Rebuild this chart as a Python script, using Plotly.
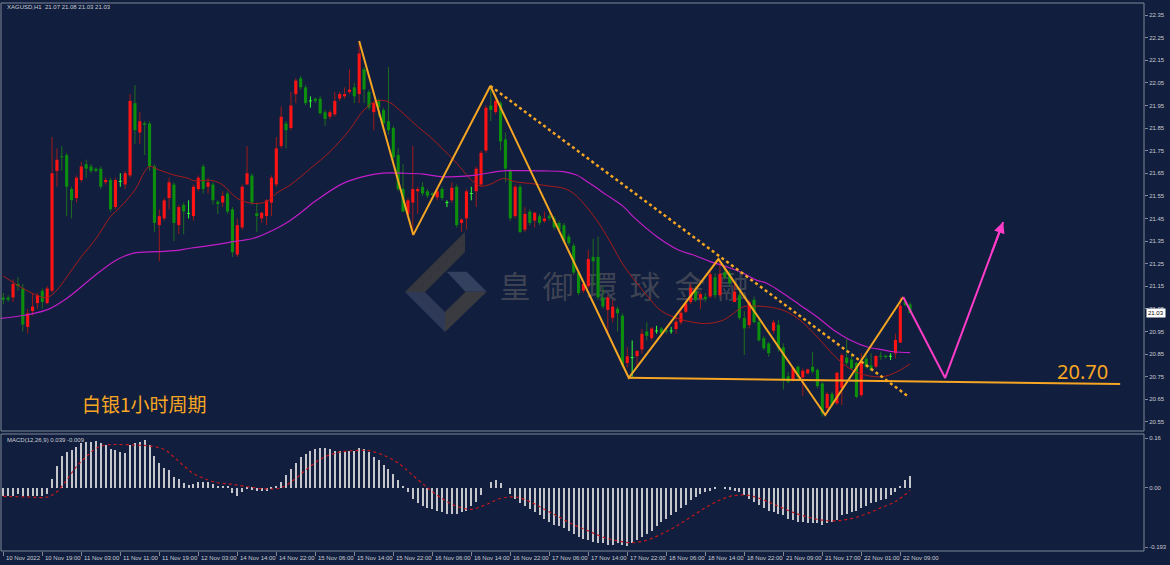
import plotly.graph_objects as go

# ---------------- data ----------------
opens = [21.10, 21.10, 21.10, 21.16, 21.14, 20.97, 21.04, 21.075, 21.13, 21.075,
         21.13, 21.66, 21.725, 21.73, 21.58, 21.54, 21.62, 21.69, 21.68, 21.67,
         21.67, 21.61, 21.62, 21.50, 21.614, 21.60, 21.64, 21.96, 21.83, 21.871,
         21.87, 21.68, 21.42, 21.45, 21.54, 21.60, 21.42, 21.51, 21.472, 21.46,
         21.58, 21.68, 21.59, 21.60, 21.524, 21.52, 21.56, 21.49, 21.29, 21.41,
         21.60, 21.64, 21.473, 21.45, 21.46, 21.52, 21.60, 21.77, 21.87, 21.85,
         22.00, 22.07, 22.03, 21.97, 21.98, 21.98, 21.92, 21.90, 21.91, 21.98,
         21.99, 22.01, 22.03, 22.00, 22.11, 22.01, 21.92, 21.97, 21.93, 21.88,
         21.85, 21.73, 21.58, 21.47, 21.52, 21.57, 21.59, 21.57, 21.561, 21.543,
         21.58, 21.52, 21.53, 21.59, 21.43, 21.45, 21.56, 21.57, 21.60, 21.75,
         21.95, 21.92, 21.96, 21.80, 21.66, 21.46, 21.59, 21.40, 21.48, 21.44,
         21.46, 21.438, 21.46, 21.45, 21.43, 21.42, 21.37, 21.33, 21.21, 21.13,
         21.15, 21.28, 21.28, 21.10, 21.045, 21.01, 21.05, 21.02, 20.81, 20.834,
         20.84, 20.87, 20.95, 20.92, 20.952, 20.963, 20.953, 20.952, 20.96, 20.99,
         21.037, 21.08, 21.13, 21.096, 21.104, 21.104, 21.19, 21.11, 21.214, 21.207,
         21.08, 21.11, 21.01, 20.978, 21.09, 20.993, 20.92, 20.897, 20.953, 20.98,
         20.88, 20.752, 20.738, 20.794, 20.746, 20.764, 20.794, 20.78, 20.72, 20.61,
         20.673, 20.632, 20.70, 20.835, 20.826, 20.81, 20.668, 20.83, 20.80, 20.794,
         20.842, 20.843, 20.84, 20.853, 20.90, 21.08, 21.07]
highs = [21.12, 21.11, 21.18, 21.19, 21.16, 21.05, 21.12, 21.12, 21.14, 21.15,
         21.81, 21.76, 21.77, 21.74, 21.59, 21.64, 21.70, 21.71, 21.69, 21.675,
         21.68, 21.63, 21.63, 21.63, 21.65, 21.66, 22.00, 22.04, 21.92, 21.88,
         21.88, 21.69, 21.49, 21.54, 21.63, 21.61, 21.51, 21.52, 21.53, 21.60,
         21.64, 21.69, 21.63, 21.61, 21.53, 21.57, 21.57, 21.50, 21.45, 21.60,
         21.77, 21.65, 21.52, 21.48, 21.535, 21.64, 21.81, 21.945, 21.88, 22.01,
         22.07, 22.08, 22.04, 21.99, 21.985, 21.99, 21.93, 21.93, 22.01, 22.01,
         22.03, 22.11, 22.05, 22.235, 22.12, 22.02, 21.97, 21.98, 21.94, 22.12,
         21.86, 21.76, 21.69, 21.54, 21.77, 21.59, 21.61, 21.58, 21.565, 21.58,
         21.59, 21.53, 21.61, 21.60, 21.45, 21.58, 21.59, 21.68, 21.75, 21.95,
         22.036, 22.00, 21.97, 21.83, 21.67, 21.60, 21.60, 21.50, 21.49, 21.48,
         21.47, 21.48, 21.47, 21.46, 21.44, 21.43, 21.38, 21.34, 21.22, 21.17,
         21.31, 21.36, 21.37, 21.15, 21.11, 21.09, 21.06, 21.03, 20.88, 20.91,
         20.87, 20.96, 20.99, 20.97, 20.975, 20.97, 20.96, 20.97, 21.01, 21.045,
         21.085, 21.16, 21.15, 21.125, 21.12, 21.22, 21.207, 21.266, 21.23, 21.22,
         21.16, 21.126, 21.04, 21.09, 21.104, 21.008, 20.93, 20.904, 21.00, 21.00,
         20.897, 20.77, 20.794, 20.80, 20.786, 20.786, 20.86, 20.786, 20.727, 20.683,
         20.683, 20.772, 20.853, 20.92, 20.853, 20.816, 20.853, 20.845, 20.853, 20.845,
         20.86, 20.845, 20.853, 20.94, 21.10, 21.09, 21.08]
lows = [21.07, 21.08, 21.08, 21.13, 20.95, 20.94, 21.02, 21.05, 21.05, 21.07,
        21.12, 21.59, 21.66, 21.46, 21.45, 21.52, 21.61, 21.63, 21.65, 21.655,
        21.58, 21.60, 21.48, 21.49, 21.59, 21.58, 21.63, 21.78, 21.78, 21.73,
        21.66, 21.39, 21.26, 21.44, 21.49, 21.35, 21.38, 21.38, 21.45, 21.44,
        21.57, 21.56, 21.56, 21.51, 21.47, 21.50, 21.47, 21.28, 21.28, 21.40,
        21.60, 21.51, 21.39, 21.43, 21.42, 21.46, 21.59, 21.76, 21.76, 21.84,
        21.96, 22.02, 21.95, 21.94, 21.96, 21.91, 21.86, 21.89, 21.90, 21.97,
        21.98, 22.00, 21.96, 21.96, 21.96, 21.93, 21.84, 21.90, 21.85, 21.82,
        21.70, 21.57, 21.48, 21.46, 21.38, 21.47, 21.55, 21.54, 21.55, 21.53,
        21.53, 21.50, 21.52, 21.41, 21.39, 21.40, 21.53, 21.50, 21.59, 21.74,
        21.88, 21.91, 21.75, 21.61, 21.44, 21.45, 21.385, 21.39, 21.42, 21.41,
        21.42, 21.43, 21.44, 21.40, 21.39, 21.34, 21.33, 21.20, 21.11, 21.12,
        21.14, 21.15, 21.09, 21.05, 20.94, 20.99, 20.95, 20.79, 20.79, 20.75,
        20.79, 20.85, 20.91, 20.91, 20.94, 20.935, 20.94, 20.94, 20.94, 20.98,
        21.03, 21.07, 21.08, 21.05, 21.08, 21.096, 21.096, 21.10, 21.18, 21.15,
        21.08, 21.00, 20.846, 20.963, 20.986, 20.904, 20.867, 20.838, 20.94, 20.86,
        20.693, 20.72, 20.727, 20.735, 20.664, 20.76, 20.764, 20.698, 20.573, 20.587,
        20.617, 20.624, 20.624, 20.80, 20.78, 20.654, 20.66, 20.786, 20.772, 20.786,
        20.823, 20.83, 20.823, 20.83, 20.90, 21.06, 21.03]
closes = [21.09, 21.09, 21.16, 21.15, 20.98, 21.03, 21.06, 21.11, 21.08, 21.14,
          21.65, 21.71, 21.72, 21.59, 21.53, 21.63, 21.68, 21.67, 21.66, 21.66,
          21.59, 21.62, 21.49, 21.62, 21.614, 21.65, 21.97, 21.84, 21.88, 21.864,
          21.68, 21.43, 21.46, 21.53, 21.61, 21.43, 21.50, 21.48, 21.472, 21.59,
          21.63, 21.58, 21.61, 21.53, 21.514, 21.55, 21.48, 21.30, 21.42, 21.59,
          21.65, 21.52, 21.46, 21.475, 21.53, 21.63, 21.76, 21.90, 21.84, 21.95,
          22.06, 22.03, 21.96, 21.97, 21.97, 21.915, 21.89, 21.92, 21.97, 22.00,
          22.00, 22.02, 21.99, 22.18, 22.02, 21.94, 21.96, 21.94, 21.87, 21.84,
          21.72, 21.58, 21.48, 21.53, 21.58, 21.58, 21.56, 21.55, 21.554, 21.57,
          21.54, 21.52, 21.586, 21.42, 21.445, 21.57, 21.56, 21.67, 21.74, 21.94,
          21.93, 21.97, 21.79, 21.67, 21.45, 21.59, 21.39, 21.47, 21.43, 21.475,
          21.43, 21.45, 21.45, 21.41, 21.40, 21.35, 21.34, 21.21, 21.12, 21.16,
          21.27, 21.26, 21.10, 21.06, 21.10, 21.06, 21.03, 20.80, 20.84, 20.834,
          20.863, 20.94, 20.93, 20.963, 20.952, 20.94, 20.95, 20.952, 20.993, 21.033,
          21.074, 21.144, 21.09, 21.115, 21.092, 21.203, 21.11, 21.204, 21.19, 21.163,
          21.126, 21.01, 20.963, 21.08, 20.99, 20.91, 20.875, 20.853, 20.99, 20.875,
          20.735, 20.727, 20.787, 20.75, 20.776, 20.782, 20.772, 20.708, 20.587, 20.673,
          20.624, 20.767, 20.845, 20.81, 20.786, 20.66, 20.816, 20.794, 20.78, 20.841,
          20.838, 20.836, 20.84, 20.912, 21.064, 21.066, 21.03]

tick_bars = list(range(0, 185, 8))
tick_labels = ["10 Nov 2022", "10 Nov 19:00", "11 Nov 03:00", "11 Nov 11:00", "11 Nov 19:00",
               "12 Nov 03:00", "14 Nov 14:00", "14 Nov 22:00", "15 Nov 06:00", "15 Nov 14:00",
               "15 Nov 22:00", "16 Nov 06:00", "16 Nov 14:00", "16 Nov 22:00", "17 Nov 06:00",
               "17 Nov 14:00", "17 Nov 22:00", "18 Nov 06:00", "18 Nov 14:00", "18 Nov 22:00",
               "21 Nov 09:00", "21 Nov 17:00", "22 Nov 01:00", "22 Nov 09:00"]

price_ticks = [22.35, 22.25, 22.15, 22.05, 21.95, 21.85, 21.75, 21.65, 21.55, 21.45,
               21.35, 21.25, 21.15, 21.05, 20.95, 20.85, 20.75, 20.65, 20.55]
macd_ticks = [0.16, 0.0, -0.193]
macd_tick_text = ["0.16", "0.00", "-0.193"]

ma_red_x = [0, 6, 9, 11, 13, 16, 19, 22, 24, 27, 29, 30, 32, 35, 38, 39, 43, 45, 48, 51, 54, 56, 59,
            63, 67, 71, 74, 76.6, 79, 82, 85, 87.5, 90, 93, 96, 98, 100, 102.6, 105, 108, 112, 115,
            117, 119, 121.7, 124.4, 127, 129, 132, 135, 139.5, 143, 145, 147.7, 149.8, 151.8, 154.5,
            156.6, 158.6, 160.7, 163.4, 166.9, 170.3, 173, 175.7, 178.5, 180.5, 182.6, 184, 186]
ma_red_y = [21.195, 21.118, 21.10, 21.133, 21.19, 21.28, 21.36, 21.458, 21.50, 21.576, 21.657, 21.68,
            21.664, 21.642, 21.627, 21.617, 21.617, 21.598, 21.539, 21.517, 21.524, 21.561, 21.60,
            21.671, 21.745, 21.841, 21.93, 21.97, 21.966, 21.915, 21.856, 21.812, 21.76, 21.694, 21.62,
            21.593, 21.602, 21.627, 21.612, 21.605, 21.593, 21.583, 21.56, 21.517, 21.443, 21.35,
            21.25, 21.19, 21.11, 21.04, 21.0, 20.986, 20.986, 21.0, 21.03, 21.059, 21.062, 21.059,
            21.052, 21.037, 21.0, 20.927, 20.846, 20.794, 20.764, 20.75, 20.75, 20.764, 20.779, 20.806]

ma_mag_x = [-0.5, 3.4, 8.9, 13, 18.5, 23.2, 26.7, 31.5, 35, 38.3, 43, 47.2, 51.3, 55.4, 58.8, 61, 64.3,
            69.7, 74.5, 77.9, 82, 86.2, 89.6, 93, 96.4, 99.8, 103.3, 106.7, 110.8, 114.9, 117.6, 120.3,
            123.8, 127.2, 129.6, 134.1, 138.5, 142, 145, 148.4, 151.8, 154.5, 156.6, 160, 163.4, 166.9,
            170.3, 173.7, 177.1, 180.5, 182.6, 186]
ma_mag_y = [21.008, 21.018, 21.045, 21.096, 21.192, 21.266, 21.296, 21.303, 21.307, 21.318, 21.332,
            21.347, 21.362, 21.399, 21.44, 21.475, 21.531, 21.605, 21.638, 21.65, 21.65, 21.646, 21.635,
            21.635, 21.64, 21.652, 21.661, 21.661, 21.66, 21.657, 21.642, 21.605, 21.553, 21.502, 21.45,
            21.369, 21.31, 21.285, 21.259, 21.236, 21.207, 21.177, 21.163, 21.118, 21.067, 21.015,
            20.956, 20.912, 20.882, 20.868, 20.86, 20.856]

macd_hist = [-0.026, -0.026, -0.026, -0.022, -0.026, -0.026, -0.026, -0.026, -0.026, -0.022,
             0.027, 0.070, 0.103, 0.117, 0.122, 0.133, 0.144, 0.149, 0.149, 0.151,
             0.144, 0.138, 0.124, 0.122, 0.117, 0.113, 0.138, 0.144, 0.149, 0.155,
             0.138, 0.103, 0.079, 0.063, 0.057, 0.036, 0.027, 0.016, 0.009, 0.012,
             0.017, 0.017, 0.019, 0.011, 0.006, 0.005, 0.003, -0.018, -0.026, -0.013,
             -0.004, -0.006, -0.010, -0.012, -0.010, -0.005, 0.005, 0.020, 0.040, 0.060,
             0.080, 0.100, 0.110, 0.120, 0.125, 0.130, 0.128, 0.125, 0.120, 0.120,
             0.118, 0.120, 0.120, 0.130, 0.125, 0.115, 0.100, 0.090, 0.075, 0.060,
             0.045, 0.025, 0.005, -0.015, -0.035, -0.050, -0.060, -0.065, -0.070, -0.075,
             -0.080, -0.085, -0.085, -0.085, -0.080, -0.075, -0.060, -0.045, -0.025, 0.000,
             0.020, 0.025, 0.015, 0.000, -0.020, -0.035, -0.050, -0.060, -0.070, -0.080,
             -0.090, -0.100, -0.110, -0.120, -0.125, -0.130, -0.140, -0.150, -0.160, -0.165,
             -0.170, -0.175, -0.180, -0.180, -0.185, -0.185, -0.180, -0.185, -0.190, -0.180,
             -0.170, -0.160, -0.150, -0.140, -0.125, -0.110, -0.100, -0.090, -0.080, -0.065,
             -0.055, -0.040, -0.030, -0.020, -0.015, -0.010, -0.005, 0.000, -0.003, -0.006,
             -0.010, -0.015, -0.025, -0.035, -0.045, -0.055, -0.065, -0.075, -0.080, -0.085,
             -0.090, -0.100, -0.105, -0.110, -0.110, -0.115, -0.115, -0.115, -0.120, -0.115,
             -0.110, -0.105, -0.090, -0.085, -0.080, -0.075, -0.065, -0.060, -0.050, -0.045,
             -0.040, -0.035, -0.025, -0.015, 0.005, 0.025, 0.039]

signal_x = [0, 5, 9, 11, 13, 15, 17, 19, 21, 23, 27, 30, 33, 36, 39, 42, 44, 47, 50, 54, 57, 60, 63,
            66, 69, 72, 75, 78, 81, 84, 87, 90, 93, 96, 99, 102, 105, 108, 111, 114, 117, 120, 123,
            126, 129, 132, 135, 138, 141, 144, 147, 150, 153, 156, 159, 162, 165, 168, 171, 174, 177,
            180, 183, 186]
signal_y = [-0.028, -0.030, -0.030, -0.013, 0.025, 0.068, 0.100, 0.127, 0.138, 0.140, 0.138, 0.135,
            0.124, 0.085, 0.046, 0.025, 0.016, 0.011, 0.003, -0.004, 0.000, 0.030, 0.070, 0.100,
            0.115, 0.120, 0.120, 0.105, 0.080, 0.040, 0.000, -0.035, -0.060, -0.070, -0.055, -0.035,
            -0.030, -0.045, -0.070, -0.095, -0.120, -0.140, -0.160, -0.172, -0.178, -0.170, -0.150,
            -0.125, -0.095, -0.065, -0.040, -0.025, -0.025, -0.040, -0.060, -0.080, -0.095, -0.105,
            -0.107, -0.100, -0.085, -0.065, -0.045, -0.009]

zigzag_x = [73.0, 84.1, 99.9, 128.3, 146.7, 168.6, 184.6]
zigzag_y = [22.235, 21.377, 22.036, 20.745, 21.27, 20.58, 21.102]
trend_x = [99.9, 185.7]
trend_y = [22.036, 20.661]
support_x = [128.3, 229.1]
support_y = [20.745, 20.717]
proj_x = [184.6, 193.2, 205.1]
proj_y = [21.102, 20.744, 21.434]

# ---------------- geometry / style ----------------
W, H = 1170, 565
ML, MR, MT, MB = 1, 26, 3, 14
PX0, PX1 = ML, W - MR
PY0, PY1 = MT, H - MB
BAR0_PX, BAR_PX = 3.3, 4.875          # pixel of bar 0, pixels per bar
P_REF, P_REF_PX, PX_PER_UNIT = 22.35, 15.0, 226.0
MACD_ZERO_PX, MACD_PX_PER_UNIT = 487.7, 308.7
MAIN_BOTTOM_PX, MACD_TOP_PX = 431, 434


def paper_x(px):
    return (px - PX0) / (PX1 - PX0)


def paper_y(py):
    return (PY1 - py) / (PY1 - PY0)


def bar_at(px):
    return (px - BAR0_PX) / BAR_PX


def price_at(py):
    return P_REF - (py - P_REF_PX) / PX_PER_UNIT


BG = "#111e3d"
FRAME = "#7f8797"
TXT = "#c8ccd4"
UP_BODY, UP_WICK = "#ff1414", "#a01a1a"
DN_BODY, DN_WICK = "#0c8f0c", "#1f6e1f"
DOJI = "#33ff33"
ORANGE = "#f7a623"
PINK = "#ff3cc8"
FONT = "Liberation Sans"

fig = go.Figure()

# watermark text (behind candles)
wm_chars = ["皇", "御", "環", "球", "金", "融"]
wm_px = [515, 558, 602, 645, 690, 733]
fig.add_trace(go.Scatter(
    x=[bar_at(p) for p in wm_px], y=[price_at(290)] * len(wm_px), mode="text",
    text=wm_chars, textfont=dict(size=31, family="Noto Sans CJK TC", color="rgba(100,100,102,0.55)"),
    hoverinfo="skip", showlegend=False, xaxis="x", yaxis="y"))

# candles
groups = {"up": ([], [], [], []), "dn": ([], [], [], []), "doji": ([], [], [], [])}
for i, (o, h, l, c) in enumerate(zip(opens, highs, lows, closes)):
    top, bot = max(o, c), min(o, c)
    key = "up" if c > o else ("dn" if c < o else "doji")
    wx, wy, bx, by = groups[key]
    if key == "doji":
        wx += [i, i, None]
        wy += [l, h, None]
        bx += [i - 0.31, i + 0.31, None]
        by += [o, o, None]
        continue
    if top - bot < 0.0045:
        mid = (top + bot) / 2
        top, bot = mid + 0.00225, mid - 0.00225
    if h > top:
        wx += [i, i, None]
        wy += [top, h, None]
    if l < bot:
        wx += [i, i, None]
        wy += [l, bot, None]
    bx += [i, i, None]
    by += [bot, top, None]

for key, wc, bc, bw in [("up", UP_WICK, UP_BODY, 3.1), ("dn", DN_WICK, DN_BODY, 3.1), ("doji", DOJI, DOJI, 1)]:
    wx, wy, bx, by = groups[key]
    fig.add_trace(go.Scatter(x=wx, y=wy, mode="lines", line=dict(color=wc, width=1),
                             hoverinfo="skip", showlegend=False, xaxis="x", yaxis="y"))
    fig.add_trace(go.Scatter(x=bx, y=by, mode="lines", line=dict(color=bc, width=bw),
                             hoverinfo="skip", showlegend=False, xaxis="x", yaxis="y"))

# moving averages
fig.add_trace(go.Scatter(x=ma_red_x, y=ma_red_y, mode="lines", line=dict(color="#a81c1c", width=1),
                         line_shape="spline", hoverinfo="skip", showlegend=False, xaxis="x", yaxis="y"))
fig.add_trace(go.Scatter(x=ma_mag_x, y=ma_mag_y, mode="lines", line=dict(color="#c21ec8", width=1.2),
                         line_shape="spline", hoverinfo="skip", showlegend=False, xaxis="x", yaxis="y"))

# drawn analysis lines
fig.add_trace(go.Scatter(x=trend_x, y=trend_y, mode="lines", line=dict(color=ORANGE, width=2.5, dash="dot"),
                         hoverinfo="skip", showlegend=False, xaxis="x", yaxis="y"))
fig.add_trace(go.Scatter(x=support_x, y=support_y, mode="lines", line=dict(color=ORANGE, width=2),
                         hoverinfo="skip", showlegend=False, xaxis="x", yaxis="y"))
fig.add_trace(go.Scatter(x=zigzag_x, y=zigzag_y, mode="lines", line=dict(color=ORANGE, width=2),
                         hoverinfo="skip", showlegend=False, xaxis="x", yaxis="y"))
fig.add_trace(go.Scatter(x=proj_x, y=proj_y, mode="lines", line=dict(color=PINK, width=2),
                         hoverinfo="skip", showlegend=False, xaxis="x", yaxis="y"))

# MACD
fig.add_trace(go.Bar(x=list(range(len(macd_hist))), y=macd_hist, width=0.42,
                     marker=dict(color="#c4c6cc", line=dict(width=0)),
                     hoverinfo="skip", showlegend=False, xaxis="x", yaxis="y2"))
fig.add_trace(go.Scatter(x=signal_x, y=signal_y, mode="lines", line=dict(color="#c8181c", width=1.2, dash="dot"),
                         line_shape="spline", hoverinfo="skip", showlegend=False, xaxis="x", yaxis="y2"))

# ---------------- layout ----------------
main_dom = [paper_y(MAIN_BOTTOM_PX), 1]
macd_dom = [0, paper_y(MACD_TOP_PX)]
x_range = [bar_at(PX0), bar_at(PX1)]
y_range = [price_at(MAIN_BOTTOM_PX), price_at(PY0)]
m_range = [(MACD_ZERO_PX - PY1) / MACD_PX_PER_UNIT, (MACD_ZERO_PX - MACD_TOP_PX) / MACD_PX_PER_UNIT]

annotations = []
for b, lab in zip(tick_bars, tick_labels):
    annotations.append(dict(x=b, y=paper_y(557.5), xref="x", yref="paper", text=lab, showarrow=False,
                            xanchor="left", yanchor="middle", xshift=1,
                            font=dict(size=6, family=FONT, color=TXT)))
annotations += [
    dict(x=paper_x(5), y=paper_y(7), xref="paper", yref="paper", xanchor="left", yanchor="middle",
         text="XAGUSD,H1\u00a0\u00a021.07 21.08 21.03 21.03", showarrow=False,
         font=dict(size=6, family=FONT, color=TXT)),
    dict(x=paper_x(5), y=paper_y(440), xref="paper", yref="paper", xanchor="left", yanchor="middle",
         text="MACD(12,26,9) 0.039 -0.009", showarrow=False,
         font=dict(size=6, family=FONT, color=TXT)),
    dict(x=paper_x(144), y=paper_y(403), xref="paper", yref="paper", xanchor="center", yanchor="middle",
         text="白银1小时周期", showarrow=False,
         font=dict(size=19, family="Noto Sans CJK SC", color=ORANGE)),
    dict(x=paper_x(1082), y=paper_y(372), xref="paper", yref="paper", xanchor="center", yanchor="middle",
         text="20.70", showarrow=False,
         font=dict(size=20, family="Noto Sans", color=ORANGE)),
    dict(x=paper_x(1145.5), y=closes[-1], xref="paper", yref="y", xanchor="left", yanchor="middle",
         text="21.03", showarrow=False, bgcolor="#ffffff", borderpad=1,
         font=dict(size=6, family=FONT, color="#000000")),
    dict(x=proj_x[-1], y=proj_y[-1], xref="x", yref="y", axref="x", ayref="y",
         ax=proj_x[1] + 0.8 * (proj_x[2] - proj_x[1]), ay=proj_y[1] + 0.8 * (proj_y[2] - proj_y[1]),
         text="", showarrow=True, arrowhead=2, arrowsize=1.1, arrowwidth=2, arrowcolor=PINK, standoff=0),
]


def path(points):
    pts = [(paper_x(px), paper_y(py)) for px, py in points]
    return "M " + " L ".join(f"{x:.5f},{y:.5f}" for x, y in pts) + " Z"


shapes = [
    dict(type="rect", xref="paper", yref="paper", x0=0, x1=1, y0=main_dom[0], y1=1,
         line=dict(color=FRAME, width=1)),
    dict(type="rect", xref="paper", yref="paper", x0=0, x1=1, y0=0, y1=macd_dom[1],
         line=dict(color=FRAME, width=1)),
    # watermark logo
    dict(type="path", xref="paper", yref="paper", layer="below", line=dict(width=0),
         fillcolor="#37383e", path=path([(405, 292), (465, 232), (465, 252), (425, 292)])),
    dict(type="path", xref="paper", yref="paper", layer="below", line=dict(width=0),
         fillcolor="#2d3957", path=path([(405, 292), (425, 292), (445, 312), (445, 332)])),
    dict(type="path", xref="paper", yref="paper", layer="below", line=dict(width=0),
         fillcolor="#33405e", path=path([(446.7, 271.7), (466.7, 271.7), (486.7, 291.7), (465.5, 291.7)])),
    dict(type="path", xref="paper", yref="paper", layer="below", line=dict(width=0),
         fillcolor="#3a3b41", path=path([(465.5, 291.7), (486.7, 291.7), (445, 332), (445, 312)])),
]

fig.update_layout(
    width=W, height=H, autosize=False,
    margin=dict(l=ML, r=MR, t=MT, b=MB, pad=0),
    paper_bgcolor=BG, plot_bgcolor=BG,
    showlegend=False, bargap=0,
    xaxis=dict(domain=[0, 1], range=x_range, anchor="y2", showgrid=False, zeroline=False,
               tickmode="array", tickvals=tick_bars, showticklabels=False,
               ticks="outside", ticklen=4, tickcolor=FRAME, showline=False, fixedrange=True),
    yaxis=dict(domain=main_dom, range=y_range, side="right", showgrid=False, zeroline=False,
               tickmode="array", tickvals=price_ticks, ticktext=[f"{v:.2f}" for v in price_ticks],
               ticks="outside", ticklen=3, tickcolor=FRAME,
               tickfont=dict(size=6, family=FONT, color=TXT), showline=False, fixedrange=True),
    yaxis2=dict(domain=macd_dom, range=m_range, side="right", showgrid=False, zeroline=False,
                tickmode="array", tickvals=macd_ticks, ticktext=macd_tick_text,
                ticks="outside", ticklen=3, tickcolor=FRAME,
                tickfont=dict(size=6, family=FONT, color=TXT), showline=False, fixedrange=True),
    annotations=annotations,
    shapes=shapes,
)

fig.write_html("out.html", config={"displayModeBar": False})
